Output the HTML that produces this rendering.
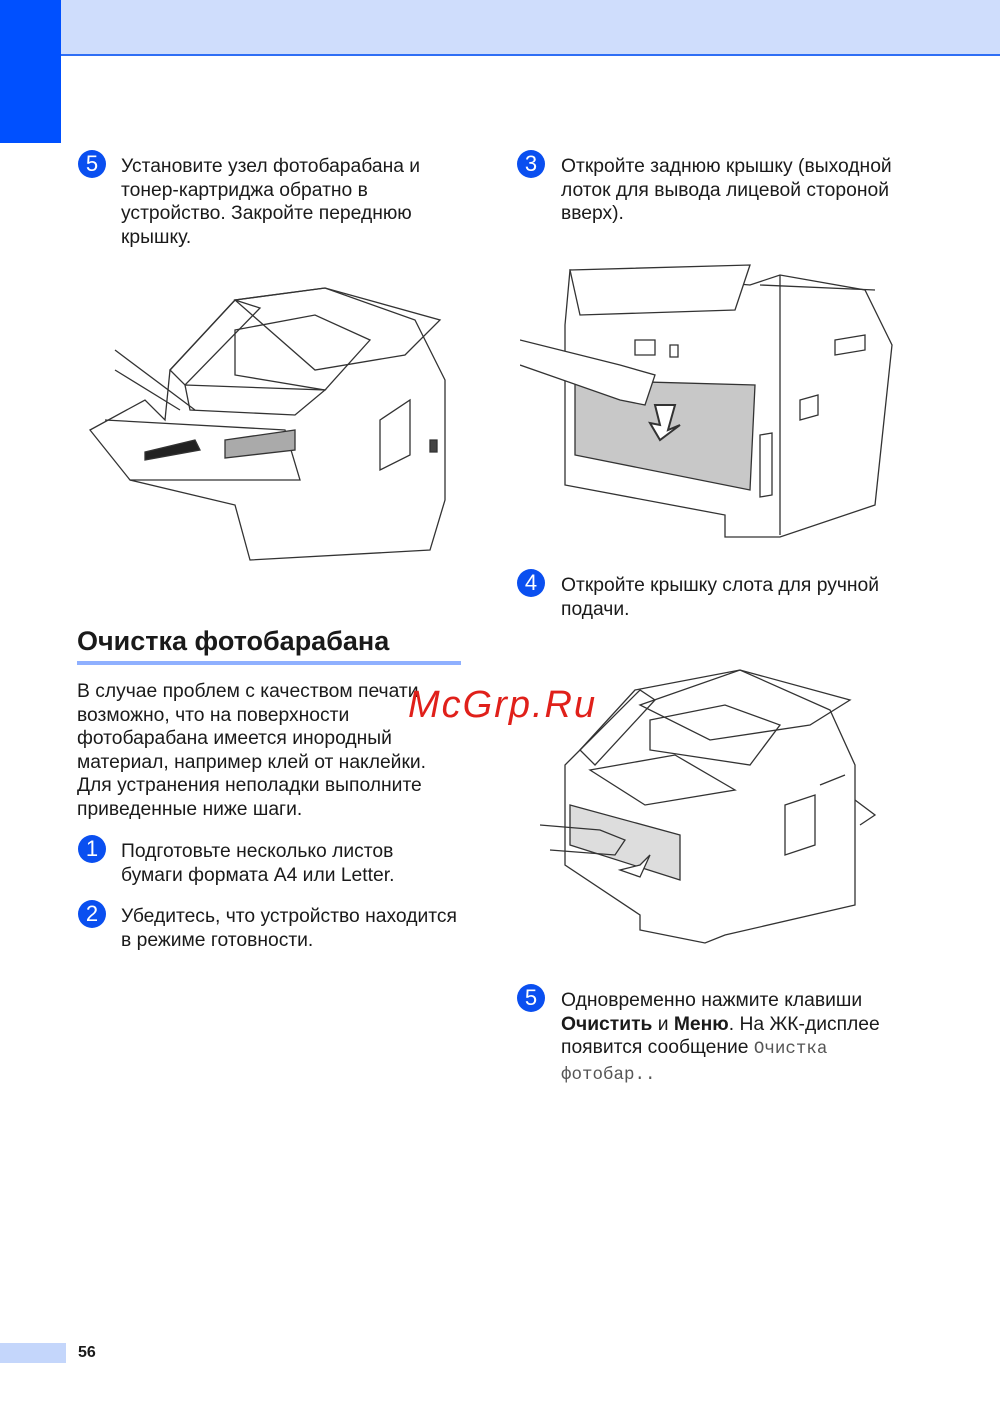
<!DOCTYPE html>
<html><head><meta charset="utf-8"><style>
body{margin:0;background:#fff;}
#p{position:relative;width:1000px;height:1413px;overflow:hidden;font-family:"Liberation Sans",Arial,sans-serif;color:#1a1a1a;}
.a{position:absolute;}
.t{position:absolute;font-size:19.3px;line-height:23.5px;white-space:nowrap;}
.c{position:absolute;width:28px;height:28px;border-radius:50%;background:#0a4ff0;color:#fff;font-size:22px;line-height:28px;text-align:center;}
.m{font-family:"Liberation Mono",monospace;color:#555;font-size:17.5px;}
svg{position:absolute;}
</style></head><body><div id="p">
<div class="a" style="left:0;top:0;width:1000px;height:54px;background:#cfddfc"></div>
<div class="a" style="left:0;top:54px;width:1000px;height:2px;background:#2f6ef5"></div>
<div class="a" style="left:0;top:0;width:61px;height:143px;background:#0050ff"></div>

<div class="c" style="left:78px;top:150px">5</div>
<div class="t" style="left:121px;top:155px">Установите узел фотобарабана и<br>тонер-картриджа обратно в<br>устройство. Закройте переднюю<br>крышку.</div>

<div class="c" style="left:517px;top:150px">3</div>
<div class="t" style="left:561px;top:155px">Откройте заднюю крышку (выходной<br>лоток для вывода лицевой стороной<br>вверх).</div>

<svg style="left:85px;top:280px" width="370" height="290" viewBox="0 0 370 290" fill="none" stroke="#333" stroke-width="1.3">
<path d="M165 280 L345 270 L360 220 L360 100 L330 40 L240 8 L150 20 L85 90 L80 140 L60 120 L5 150 L45 200 L150 225 L165 280 Z" fill="#fff"/>
<path d="M150 20 L240 8 L355 40 L320 75 L230 90 Z"/>
<path d="M150 50 L230 35 L285 60 L240 110 L150 95 Z"/>
<path d="M85 90 L150 20 L175 28 L100 105 Z"/>
<path d="M100 105 L240 110 L210 135 L105 130 Z"/>
<path d="M295 140 L325 120 L325 175 L295 190 Z"/>
<path d="M20 140 L200 150 L215 200 L45 200"/>
<path d="M60 180 L115 170 L110 160 L60 172Z" fill="#222"/>
<path d="M140 160 L210 150 L210 170 L140 178Z" fill="#aaa"/>
<path d="M30 70 L110 130 M30 90 L95 130"/>
<path d="M345 160 L352 160 L352 172 L345 172Z" fill="#444"/>
</svg>

<svg style="left:520px;top:255px" width="378" height="285" viewBox="0 0 378 285" fill="none" stroke="#333" stroke-width="1.3">
<path d="M45 70 L45 230 L205 260 L205 282 L260 282 L355 250 L372 90 L345 35 L260 20 L230 30 L50 15 Z" fill="#fff"/>
<path d="M50 15 L230 10 L215 55 L60 60 Z" fill="#fff"/>
<path d="M55 125 L235 130 L230 235 L55 200 Z" fill="#c8c8c8"/>
<path d="M0 85 L100 110 L135 120 L125 150 L100 145 L0 110" fill="#fff"/>
<path d="M135 150 L155 150 L148 175 L160 170 L140 185 L130 168 L140 170 Z" fill="#fff" stroke-width="2"/>
<path d="M115 85 L135 85 L135 100 L115 100Z M150 90 L158 90 L158 102 L150 102Z"/>
<path d="M280 145 L298 140 L298 160 L280 165Z M315 85 L345 80 L345 95 L315 100Z M240 180 L252 178 L252 240 L240 242Z"/>
<path d="M240 30 L355 35 M260 20 L260 280"/>
</svg>

<div class="c" style="left:517px;top:569px">4</div>
<div class="t" style="left:561px;top:574px">Откройте крышку слота для ручной<br>подачи.</div>

<div class="a" style="left:77px;top:625px;font-size:27px;font-weight:bold;line-height:32px;white-space:nowrap">Очистка фотобарабана</div>
<div class="a" style="left:77px;top:661px;width:384px;height:4px;background:#8fb0ff"></div>

<div class="t" style="left:77px;top:680px">В случае проблем с качеством печати<br>возможно, что на поверхности<br>фотобарабана имеется инородный<br>материал, например клей от наклейки.<br>Для устранения неполадки выполните<br>приведенные ниже шаги.</div>

<div class="a" style="left:408px;top:684px;font-size:38px;color:#e0201a;font-style:italic;letter-spacing:2px;font-family:'Liberation Sans',sans-serif;white-space:nowrap">McGrp.Ru</div>

<svg style="left:540px;top:665px" width="340" height="280" viewBox="0 0 340 280" fill="none" stroke="#333" stroke-width="1.3">
<path d="M25 100 L25 200 L100 250 L100 265 L165 278 L185 270 L315 240 L315 100 L290 45 L200 5 L95 25 L40 85 Z" fill="#fff"/>
<path d="M100 40 L200 5 L310 35 L270 60 L170 75 Z"/>
<path d="M110 55 L185 40 L240 60 L210 100 L110 85 Z"/>
<path d="M40 85 L100 25 L115 35 L55 100 Z"/>
<path d="M50 105 L135 90 L195 125 L105 140 Z"/>
<path d="M30 140 L140 170 L140 215 L30 180 Z" fill="#ddd"/>
<path d="M0 160 L60 165 L85 175 L75 190 L10 185"/>
<path d="M100 200 L110 190 L100 212 L80 205 Z" fill="#fff"/>
<path d="M245 140 L275 130 L275 180 L245 190Z M280 120 L305 110 M315 135 L335 150 L320 160"/>
</svg>

<div class="c" style="left:78px;top:835px">1</div>
<div class="t" style="left:121px;top:840px">Подготовьте несколько листов<br>бумаги формата A4 или Letter.</div>
<div class="c" style="left:78px;top:900px">2</div>
<div class="t" style="left:121px;top:905px">Убедитесь, что устройство находится<br>в режиме готовности.</div>

<div class="c" style="left:517px;top:984px">5</div>
<div class="t" style="left:561px;top:989px">Одновременно нажмите клавиши<br><b>Очистить</b> и <b>Меню</b>. На ЖК-дисплее<br>появится сообщение <span class="m">Очистка</span><br><span class="m">фотобар..</span></div>

<div class="a" style="left:0;top:1343px;width:66px;height:20px;background:#c4d6fb"></div>
<div class="a" style="left:78px;top:1343px;font-size:16px;font-weight:bold;line-height:20px">56</div>
</div></body></html>
